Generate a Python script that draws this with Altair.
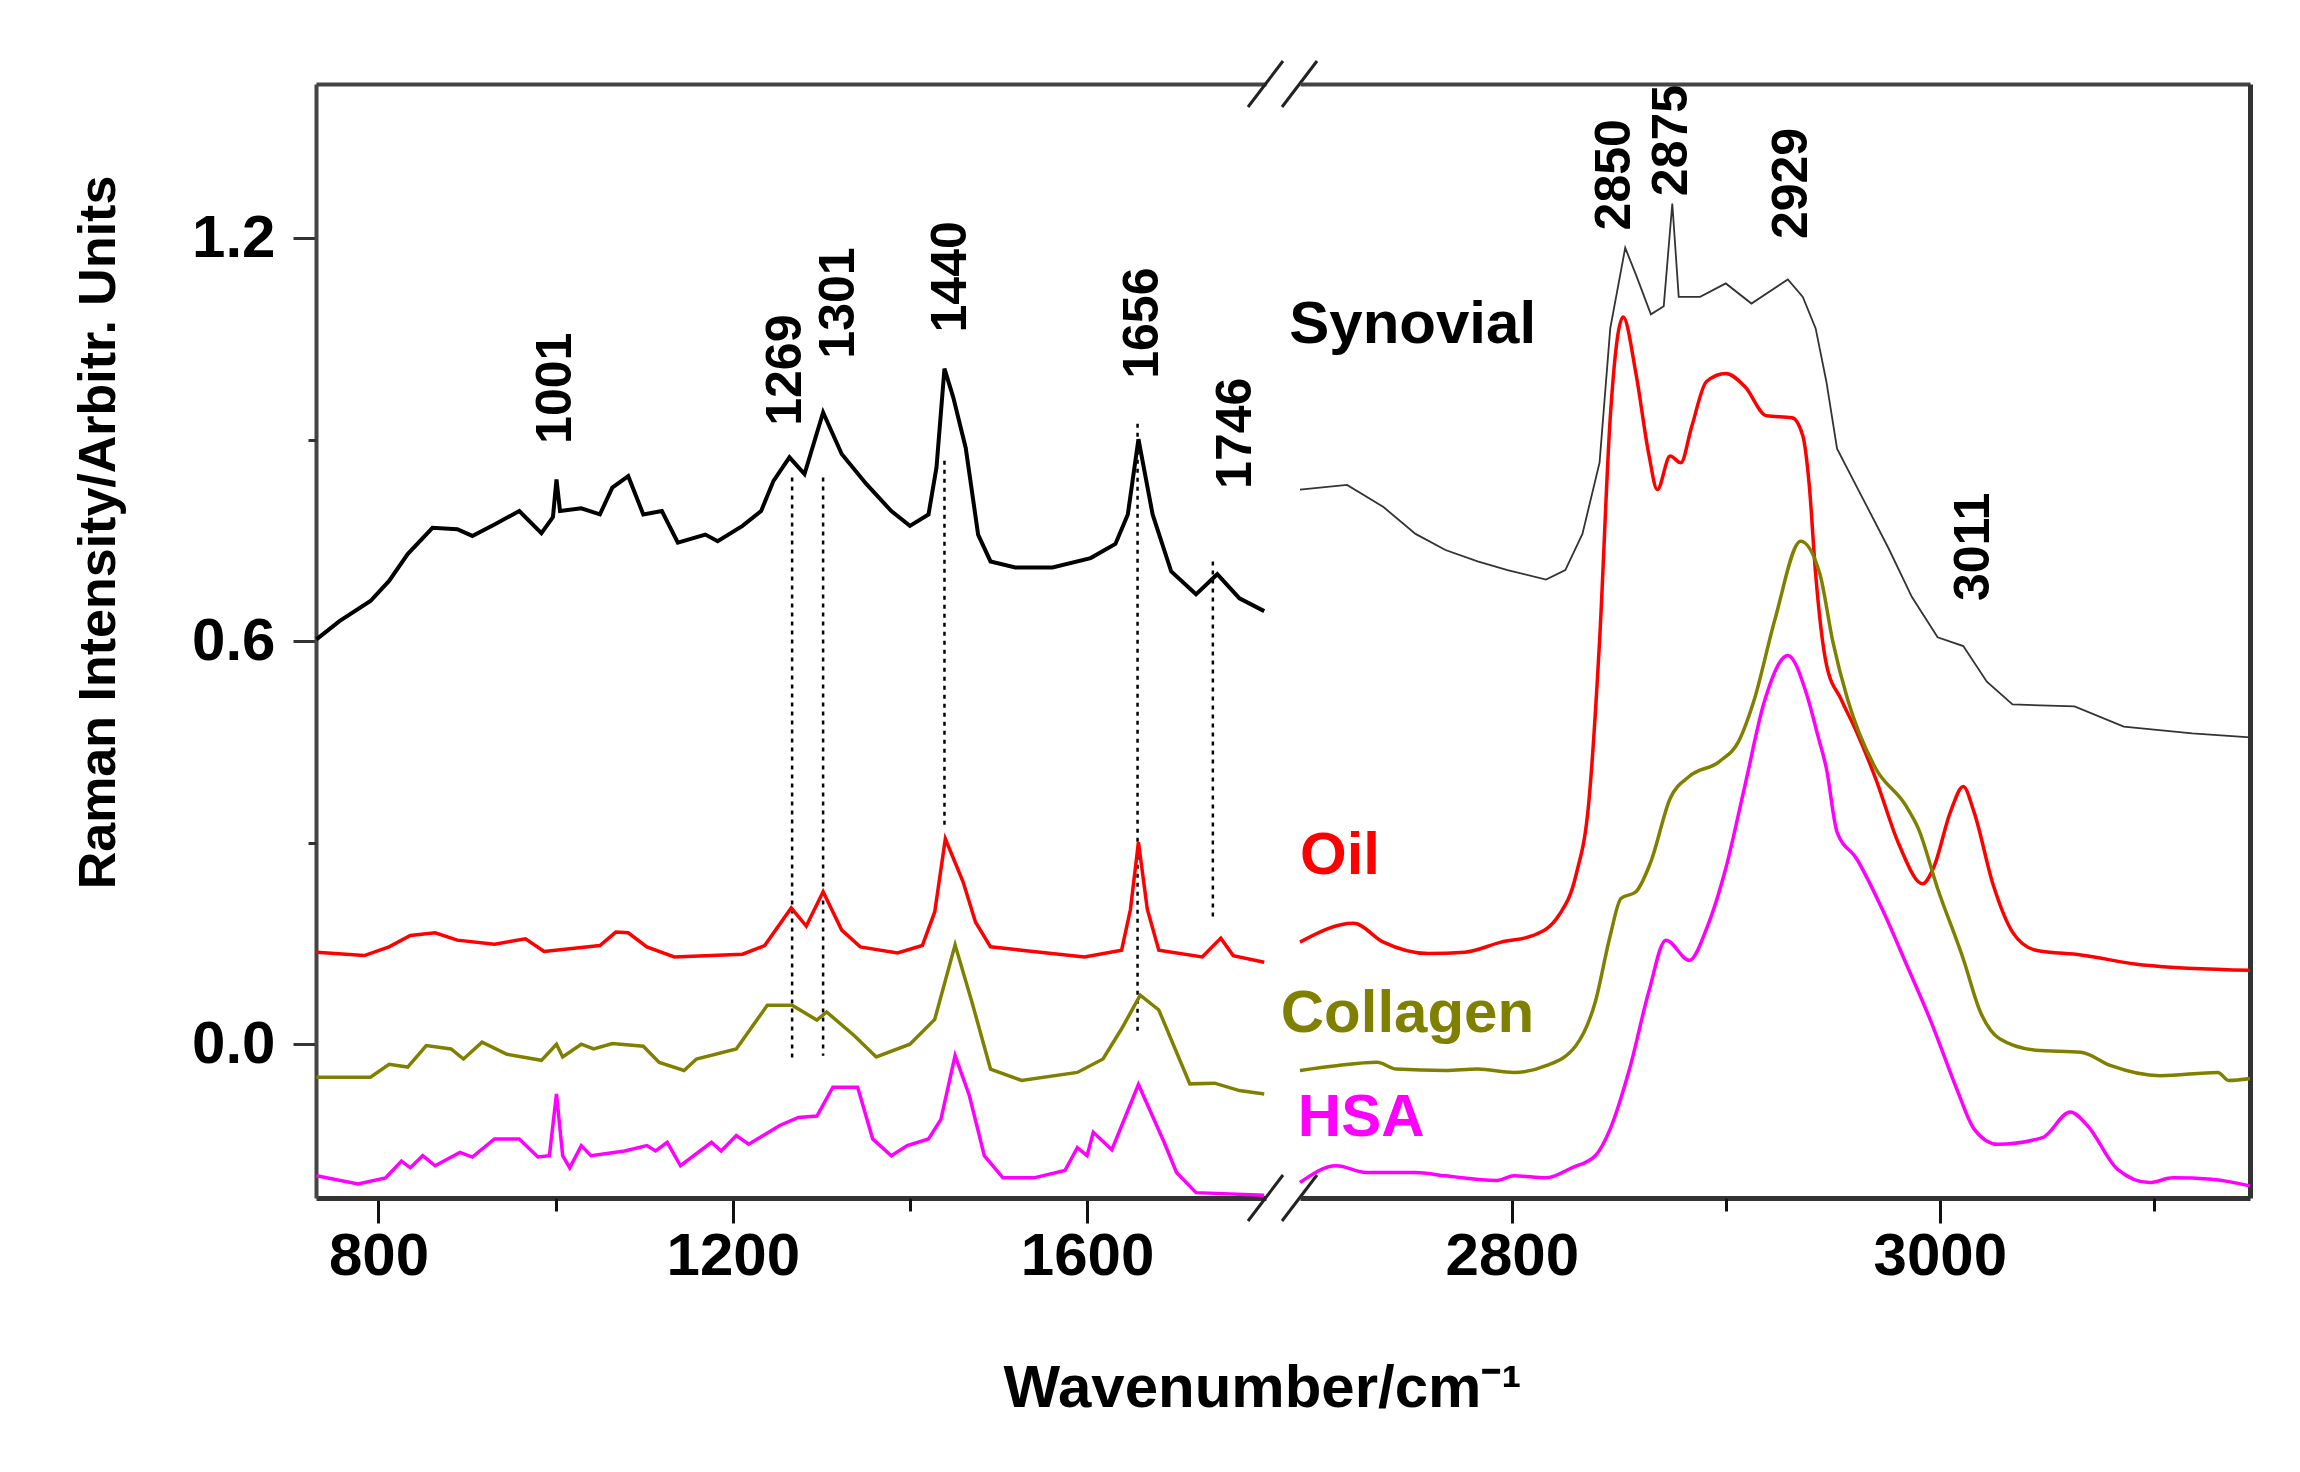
import altair as alt
import pandas as pd

# Raman spectra: wavenumber (cm-1) and intensity (arbitr. units)
# low-wavenumber window
SYN_L_X = [730, 756, 791, 812, 833, 861, 889, 906, 931, 959, 984, 997, 1001, 1005, 1029, 1050, 1064, 1082,
           1099, 1120, 1138, 1169, 1183, 1211, 1232, 1246, 1264, 1281, 1302, 1323, 1351, 1379, 1400, 1421,
           1430, 1439, 1449, 1463, 1477, 1491, 1519, 1561, 1604, 1632, 1646, 1658, 1674, 1695, 1723, 1747,
           1772, 1800]
SYN_L_Y = [0.603, 0.630, 0.660, 0.690, 0.730, 0.769, 0.767, 0.757, 0.774, 0.794, 0.761, 0.785, 0.841, 0.794,
           0.798, 0.789, 0.829, 0.846, 0.789, 0.794, 0.747, 0.759, 0.749, 0.772, 0.794, 0.839, 0.874, 0.849,
           0.941, 0.879, 0.834, 0.794, 0.772, 0.789, 0.859, 1.006, 0.963, 0.888, 0.759, 0.719, 0.710, 0.710,
           0.724, 0.745, 0.789, 0.901, 0.789, 0.704, 0.670, 0.700, 0.664, 0.645]

OIL_L_X = [730, 784, 812, 836, 864, 889, 931, 966, 987, 1050, 1068, 1082, 1103, 1134, 1211, 1236, 1266, 1283,
           1302, 1323, 1344, 1386, 1414, 1428, 1440, 1460, 1474, 1491, 1526, 1597, 1639, 1649, 1658, 1668,
           1681, 1730, 1751, 1765, 1800]
OIL_L_Y = [0.137, 0.132, 0.145, 0.162, 0.166, 0.155, 0.149, 0.157, 0.138, 0.147, 0.167, 0.166, 0.145, 0.130,
           0.134, 0.147, 0.203, 0.176, 0.227, 0.170, 0.145, 0.136, 0.147, 0.197, 0.306, 0.242, 0.182, 0.145,
           0.140, 0.130, 0.140, 0.201, 0.301, 0.201, 0.140, 0.130, 0.158, 0.132, 0.122]

COL_L_X = [730, 791, 812, 833, 854, 882, 896, 917, 945, 984, 1001, 1008, 1029, 1043, 1064, 1099, 1117, 1145,
           1159, 1204, 1239, 1267, 1295, 1306, 1337, 1362, 1400, 1428, 1451, 1470, 1491, 1526, 1589, 1618,
           1639, 1660, 1681, 1716, 1744, 1772, 1800]
COL_L_Y = [-0.049, -0.049, -0.030, -0.034, -0.002, -0.007, -0.022, 0.003, -0.015, -0.024, 0.000, -0.019,
           0.000, -0.007, 0.001, -0.003, -0.027, -0.039, -0.022, -0.007, 0.058, 0.058, 0.036, 0.048, 0.013,
           -0.019, 0.000, 0.037, 0.148, 0.063, -0.037, -0.054, -0.042, -0.022, 0.023, 0.073, 0.051, -0.059,
           -0.058, -0.069, -0.074]

HSA_L_X = [730, 777, 808, 826, 836, 850, 864, 892, 906, 931, 959, 980, 993, 1001, 1008, 1016, 1029, 1040,
           1078, 1103, 1113, 1126, 1141, 1176, 1187, 1204, 1218, 1253, 1274, 1295, 1313, 1341, 1358, 1379,
           1397, 1421, 1435, 1451, 1467, 1484, 1505, 1540, 1575, 1589, 1600, 1607, 1628, 1658, 1687, 1701,
           1723, 1800]
HSA_L_Y = [-0.196, -0.208, -0.199, -0.174, -0.184, -0.166, -0.181, -0.161, -0.168, -0.141, -0.141, -0.168,
           -0.166, -0.074, -0.166, -0.184, -0.151, -0.166, -0.159, -0.151, -0.159, -0.146, -0.181, -0.146,
           -0.159, -0.136, -0.149, -0.121, -0.109, -0.107, -0.064, -0.064, -0.141, -0.166, -0.151, -0.141,
           -0.112, -0.017, -0.076, -0.166, -0.199, -0.199, -0.188, -0.154, -0.166, -0.131, -0.157, -0.060,
           -0.146, -0.191, -0.221, -0.225]

# high-wavenumber window
SYN_R_X = [2701, 2723, 2740, 2755, 2769, 2784, 2798, 2816, 2825, 2833, 2841, 2846, 2853, 2858, 2865, 2871,
           2875, 2878, 2888, 2900, 2912, 2929, 2936, 2942, 2947, 2952, 2964, 2976, 2987, 2999, 3011, 3022,
           3034, 3063, 3086, 3118, 3145]
SYN_R_Y = [0.826, 0.833, 0.800, 0.760, 0.736, 0.719, 0.706, 0.692, 0.706, 0.760, 0.866, 1.066, 1.186, 1.146,
           1.087, 1.099, 1.252, 1.113, 1.113, 1.133, 1.103, 1.139, 1.113, 1.066, 0.987, 0.887, 0.813, 0.739,
           0.666, 0.606, 0.593, 0.540, 0.506, 0.503, 0.473, 0.463, 0.457]

OIL_R_X = [2701, 2726, 2740, 2761, 2778, 2795, 2810, 2822, 2830, 2836, 2841, 2846, 2852, 2858, 2864, 2868,
           2874, 2879, 2884, 2891, 2900, 2909, 2919, 2931, 2936, 2939, 2942, 2947, 2954, 2961, 2970, 2981,
           2992, 2997, 3005, 3011, 3016, 3025, 3034, 3045, 3066, 3095, 3145]
OIL_R_Y = [0.152, 0.180, 0.152, 0.135, 0.137, 0.152, 0.162, 0.192, 0.252, 0.361, 0.600, 0.933, 1.083, 0.999,
           0.879, 0.826, 0.876, 0.866, 0.919, 0.987, 0.999, 0.979, 0.936, 0.933, 0.906, 0.833, 0.700, 0.566,
           0.513, 0.466, 0.396, 0.297, 0.239, 0.262, 0.346, 0.384, 0.346, 0.237, 0.167, 0.140, 0.133, 0.118,
           0.110]

COL_R_X = [2701, 2718, 2737, 2746, 2769, 2784, 2801, 2816, 2830, 2839, 2846, 2851, 2858, 2865, 2874, 2883,
           2897, 2906, 2913, 2923, 2935, 2944, 2950, 2957, 2970, 2984, 2990, 2999, 3011, 3019, 3028, 3045,
           3066, 3080, 3103, 3130, 3135, 3145]
COL_R_Y = [-0.039, -0.032, -0.027, -0.037, -0.039, -0.037, -0.042, -0.032, -0.002, 0.063, 0.162, 0.217,
           0.227, 0.272, 0.366, 0.399, 0.421, 0.451, 0.510, 0.633, 0.749, 0.700, 0.600, 0.513, 0.411, 0.356,
           0.321, 0.232, 0.127, 0.048, 0.008, -0.009, -0.012, -0.032, -0.047, -0.042, -0.054, -0.051]

HSA_R_X = [2701, 2718, 2732, 2755, 2769, 2793, 2801, 2816, 2828, 2839, 2846, 2855, 2864, 2872, 2883, 2891,
           2900, 2909, 2918, 2929, 2938, 2943, 2947, 2952, 2961, 2973, 2984, 2996, 3008, 3016, 3027, 3048,
           3061, 3069, 3083, 3098, 3109, 3127, 3145]
HSA_R_Y = [-0.206, -0.181, -0.191, -0.191, -0.196, -0.203, -0.196, -0.199, -0.184, -0.166, -0.126, -0.037,
           0.078, 0.155, 0.125, 0.172, 0.262, 0.386, 0.510, 0.579, 0.519, 0.460, 0.411, 0.316, 0.277, 0.202,
           0.122, 0.033, -0.067, -0.126, -0.149, -0.139, -0.101, -0.121, -0.186, -0.206, -0.199, -0.201,
           -0.211]

# dotted guide lines (wavenumber, top, bottom)
DOT_X = [1267, 1302, 1439, 1657, 1742]
DOT_TOP = [0.844, 0.844, 0.869, 0.924, 0.719]
DOT_BOT = [-0.027, -0.017, 0.324, 0.018, 0.185]

# peak annotations
PEAK_TXT_L = ["1001", "1269", "1301", "1440", "1656", "1746"]
PEAK_X_L = [1001, 1260, 1320, 1446, 1663, 1768]
PEAK_Y_L = [0.894, 0.921, 1.021, 1.060, 0.991, 0.827]
PEAK_TXT_R = ["2850", "2875", "2929", "3011"]
PEAK_X_R = [2848, 2875, 2931, 3016]
PEAK_Y_R = [1.212, 1.263, 1.199, 0.660]

# series names written next to the curves
LABEL_TXT = ["Synovial", "Oil", "Collagen", "HSA"]
LABEL_X = [2696, 2701, 2692, 2700]
LABEL_Y = [1.045, 0.254, 0.018, -0.136]

SERIES = ["Synovial", "Oil", "Collagen", "HSA"]
COLORS = ["#000000", "#ff0000", "#808000", "#ff00ff"]

FONT = "Liberation Sans"
W, H, GAP = 950, 1114, 34
X_LEFT = [729.5, 1802]
X_RIGHT = [2701, 3145]
Y_DOM = [-0.229, 1.43]
FRAME = "#444444"


def spectrum(xs, ys, name):
    return pd.DataFrame({"wn": xs, "val": ys, "series": name})


left_df = pd.concat([spectrum(OIL_L_X, OIL_L_Y, "Oil"), spectrum(COL_L_X, COL_L_Y, "Collagen"),
                     spectrum(HSA_L_X, HSA_L_Y, "HSA")])
right_df = pd.concat([spectrum(OIL_R_X, OIL_R_Y, "Oil"), spectrum(COL_R_X, COL_R_Y, "Collagen"),
                      spectrum(HSA_R_X, HSA_R_Y, "HSA")])
syn_l = spectrum(SYN_L_X, SYN_L_Y, "Synovial")
syn_r = spectrum(SYN_R_X, SYN_R_Y, "Synovial")

color = alt.Color("series:N", scale=alt.Scale(domain=SERIES, range=COLORS), legend=None)
ys = alt.Scale(domain=Y_DOM, nice=False, zero=False)
Y_NONE = alt.Y("val:Q", scale=ys, axis=None)

txt = dict(font=FONT, fontWeight="bold")
lab = dict(labelFont=FONT, labelFontWeight="bold", labelFontSize=60, labelColor="black")


def major_x(values, title):
    if title:
        extra = dict(title=title, titleX=946, titleY=208, titleAlign="center", titleBaseline="alphabetic",
                     titleFont=FONT, titleFontSize=60, titleFontWeight="bold", titleColor="black")
    else:
        extra = dict(title=None)
    return alt.Axis(orient="bottom", values=values, format="d", tickSize=25, tickWidth=3, tickColor="#111",
                    domainColor="#333", domainWidth=5, labelPadding=4, labelFlush=False, labelOverlap=False,
                    grid=False, **lab, **extra)


def minor_x(values):
    return alt.Axis(orient="bottom", values=values, tickSize=13, tickWidth=3, tickColor="#111",
                    labels=False, domain=False, grid=False, title=None)


TOP_FRAME = alt.Axis(orient="top", domain=True, domainColor=FRAME, domainWidth=4, ticks=False,
                     labels=False, grid=False, title=None, minExtent=0, maxExtent=0)


def panel(xdom, syn, df, major, minor, is_left):
    xs = alt.Scale(domain=xdom, nice=False, zero=False)
    x_none = alt.X("wn:Q", scale=xs, axis=None)

    if is_left:
        y_main = alt.Y("val:Q", scale=ys, axis=alt.Axis(
            orient="left", values=[0, 0.6, 1.2], format=".1f", tickSize=23, tickWidth=3, tickColor="#333",
            domainColor=FRAME, domainWidth=4, labelPadding=18, grid=False, **lab,
            title="Raman Intensity/Arbitr. Units", titleX=-218, titleY=448, titleAngle=270,
            titleAlign="center", titleBaseline="middle", titleFont=FONT, titleFontSize=52,
            titleFontWeight="bold", titleColor="black"))
        y_minor = alt.Y("val:Q", scale=ys, axis=alt.Axis(
            orient="left", values=[0.3, 0.9], tickSize=8, tickWidth=3, tickColor="#333", labels=False,
            domain=False, grid=False, title=None))
        y_frame = Y_NONE
        syn_mark = alt.Chart(syn).mark_line(color="black", strokeWidth=4)
        interp = "linear"
    else:
        y_main = Y_NONE
        y_minor = Y_NONE
        y_frame = alt.Y("val:Q", scale=ys, axis=alt.Axis(
            orient="right", domain=True, domainColor="#333", domainWidth=5, ticks=False, labels=False,
            grid=False, title=None, minExtent=0, maxExtent=0))
        syn_mark = alt.Chart(syn).mark_line(color="#333333", strokeWidth=1.8)
        interp = "monotone"

    layers = []
    if is_left:
        dots = pd.DataFrame({"wn": DOT_X, "top": DOT_TOP, "bot": DOT_BOT})
        layers.append(alt.Chart(dots).mark_rule(color="black", strokeWidth=2.5, strokeDash=[4, 5]).encode(
            x=x_none, y=alt.Y("top:Q", scale=ys, axis=None), y2="bot:Q"))

    layers.append(syn_mark.encode(x=alt.X("wn:Q", scale=xs, axis=major), y=y_main))
    layers.append(alt.Chart(df).mark_line(strokeWidth=3.5, interpolate=interp).encode(
        x=x_none, y=Y_NONE, color=color, detail="series:N"))
    layers.append(alt.Chart(syn).mark_line(opacity=0).encode(
        x=alt.X("wn:Q", scale=xs, axis=minor), y=y_minor))
    layers.append(alt.Chart(syn).mark_line(opacity=0).encode(
        x=alt.X("wn:Q", scale=xs, axis=TOP_FRAME), y=y_frame))

    if is_left:
        peaks = pd.DataFrame({"wn": PEAK_X_L, "val": PEAK_Y_L, "t": PEAK_TXT_L})
    else:
        peaks = pd.DataFrame({"wn": PEAK_X_R, "val": PEAK_Y_R, "t": PEAK_TXT_R})
    layers.append(alt.Chart(peaks).mark_text(angle=270, align="left", baseline="middle", fontSize=50,
                                             color="black", **txt).encode(x=x_none, y=Y_NONE, text="t:N"))

    if not is_left:
        names = pd.DataFrame({"wn": LABEL_X, "val": LABEL_Y, "series": LABEL_TXT})
        layers.append(alt.Chart(names).mark_text(align="left", baseline="alphabetic", fontSize=60, **txt)
                      .encode(x=x_none, y=Y_NONE, text="series:N", color=color))
    else:
        # axis-break slashes drawn across the gap between the two windows
        one = pd.DataFrame({"k": [0]})
        for x0 in (W - 18, W + 16):
            for y0 in (0, H):
                layers.append(alt.Chart(one).mark_rule(color="#222", strokeWidth=3).encode(
                    x=alt.value(x0), x2=alt.value(x0 + 35), y=alt.value(y0 + 23), y2=alt.value(y0 - 23)))

    return alt.layer(*layers).resolve_axis(x="independent", y="independent").properties(width=W, height=H)


left = panel(X_LEFT, syn_l, left_df, major_x([800, 1200, 1600], "Wavenumber/cm\u207b\u00b9"),
             minor_x([1000, 1400]), True)
right = panel(X_RIGHT, syn_r, right_df, major_x([2800, 3000], None), minor_x([2900, 3100]), False)

chart = (alt.hconcat(left, right, spacing=GAP, bounds="flush")
         .properties(padding={"left": 64, "top": 51, "right": 10, "bottom": 10}, background="white")
         .configure_view(strokeWidth=0))

chart.save("out.html", embed_options={"renderer": "svg", "actions": False})
